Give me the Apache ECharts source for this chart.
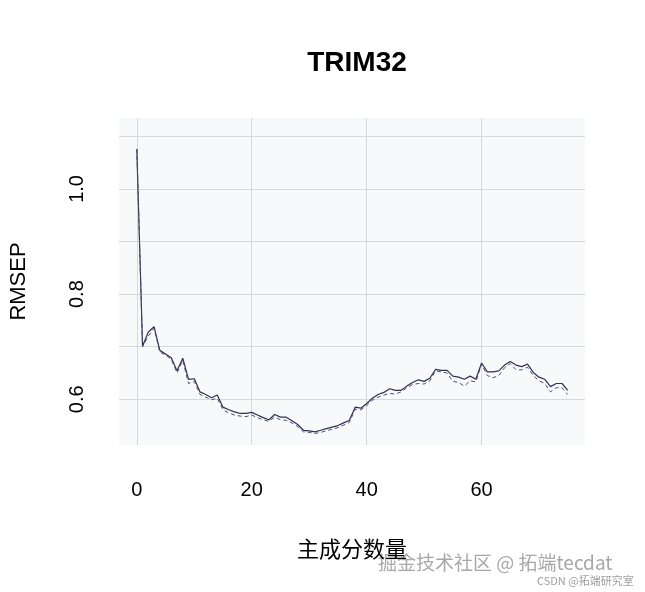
<!DOCTYPE html>
<html>
<head>
<meta charset="utf-8">
<script src="https://cdn.jsdelivr.net/npm/echarts@6/dist/echarts.min.js"></script>
<style>
html,body{margin:0;padding:0;background:#fff;}
#chart{width:645px;height:592px;}
</style>
</head>
<body>
<div id="chart"></div>
<script>
// Number of components (0..75)
var components = [];
for (var i = 0; i <= 75; i++) components.push(i);

// RMSEP, CV (solid line)
var cvRMSEP = [1.076,0.701,0.728,0.738,0.693,0.686,0.679,0.654,0.678,0.638,
0.639,0.614,0.609,0.603,0.608,0.585,0.580,0.576,0.573,0.573,
0.575,0.570,0.565,0.561,0.571,0.566,0.566,0.559,0.552,0.541,
0.540,0.538,0.541,0.544,0.547,0.550,0.555,0.560,0.585,0.583,
0.592,0.602,0.609,0.613,0.620,0.617,0.617,0.625,0.632,0.637,
0.634,0.640,0.657,0.655,0.655,0.644,0.642,0.638,0.644,0.638,
0.669,0.652,0.652,0.654,0.665,0.672,0.665,0.662,0.667,0.651,
0.642,0.638,0.624,0.630,0.630,0.617];

// RMSEP, adjusted CV (dashed line)
var adjCvRMSEP = [1.076,0.700,0.720,0.735,0.690,0.684,0.676,0.650,0.674,0.630,
0.634,0.609,0.604,0.599,0.602,0.580,0.574,0.570,0.568,0.567,
0.570,0.565,0.561,0.558,0.566,0.561,0.560,0.555,0.548,0.538,
0.537,0.535,0.537,0.540,0.543,0.546,0.551,0.556,0.581,0.580,
0.588,0.598,0.604,0.608,0.611,0.610,0.614,0.622,0.628,0.630,
0.629,0.635,0.654,0.652,0.650,0.634,0.632,0.625,0.635,0.633,
0.667,0.645,0.641,0.645,0.660,0.668,0.656,0.656,0.661,0.645,
0.635,0.630,0.614,0.622,0.622,0.609];

var xTicks = [0, 20, 40, 60];
var yLabelTicks = [0.6, 0.8, 1.0];
var yGridTicks = [0.6, 0.7, 0.8, 0.9, 1.0, 1.1];

function pairs(xs, ys) { return xs.map(function (x, i) { return [x, ys[i]]; }); }

var chart = echarts.init(document.getElementById('chart'), null, {renderer: 'canvas'});
var font = 'Liberation Sans, Arial, sans-serif';
chart.setOption({
  animation: false,
  backgroundColor: '#ffffff',
  title: {
    text: 'TRIM32',
    left: 352,
    textAlign: 'center',
    top: 44,
    textStyle: {fontFamily: font, fontSize: 28, fontWeight: 'bold', color: '#000'}
  },
  grid: {
    left: 118, right: 60, top: 118, bottom: 147,
    show: true, backgroundColor: '#f8f9fb', borderWidth: 0
  },
  xAxis: {
    type: 'value', min: -3.1, max: 78,
    name: '主成分数量', nameLocation: 'middle', nameGap: 93,
    nameTextStyle: {fontFamily: 'Noto Sans CJK SC', fontSize: 22, color: '#000'},
    axisLine: {show: false},
    axisTick: {show: false, customValues: xTicks},
    axisLabel: {customValues: xTicks, margin: 35, fontFamily: font, fontSize: 20, color: '#000'},
    splitLine: {show: true, customValues: xTicks, lineStyle: {color: '#d8d8d8', width: 1}}
  },
  yAxis: {
    type: 'value', min: 0.513, max: 1.135,
    name: 'RMSEP', nameLocation: 'middle', nameGap: 89, nameRotate: 90,
    nameTextStyle: {fontFamily: font, fontSize: 22, color: '#000'},
    axisLine: {show: false},
    axisTick: {show: false, customValues: yGridTicks},
    axisLabel: {customValues: yLabelTicks, rotate: 90, margin: 32, fontFamily: font, fontSize: 20, color: '#000',
      formatter: function (v) { return v.toFixed(1); }},
    splitLine: {show: true, customValues: yGridTicks, lineStyle: {color: '#d8d8d8', width: 1}}
  },
  graphic: [
    {type: 'text', left: 378, top: 553, silent: true,
     style: {text: '掘金技术社区 @ 拓端tecdat', font: '19px "Noto Sans CJK SC"', fill: '#a8a8a8'}},
    {type: 'text', left: 537, top: 575, silent: true,
     style: {text: 'CSDN @拓端研究室', font: '11px "Noto Sans CJK SC"', fill: '#a0a0a0'}}
  ],
  series: [
    {type: 'line', name: 'CV', data: pairs(components, cvRMSEP), showSymbol: false,
     lineStyle: {color: '#2e3250', width: 1.2, type: 'solid'}},
    {type: 'line', name: 'adjCV', data: pairs(components, adjCvRMSEP), showSymbol: false,
     lineStyle: {color: '#4a4f70', width: 1, type: [4, 3]}}
  ]
});
</script>
</body>
</html>
